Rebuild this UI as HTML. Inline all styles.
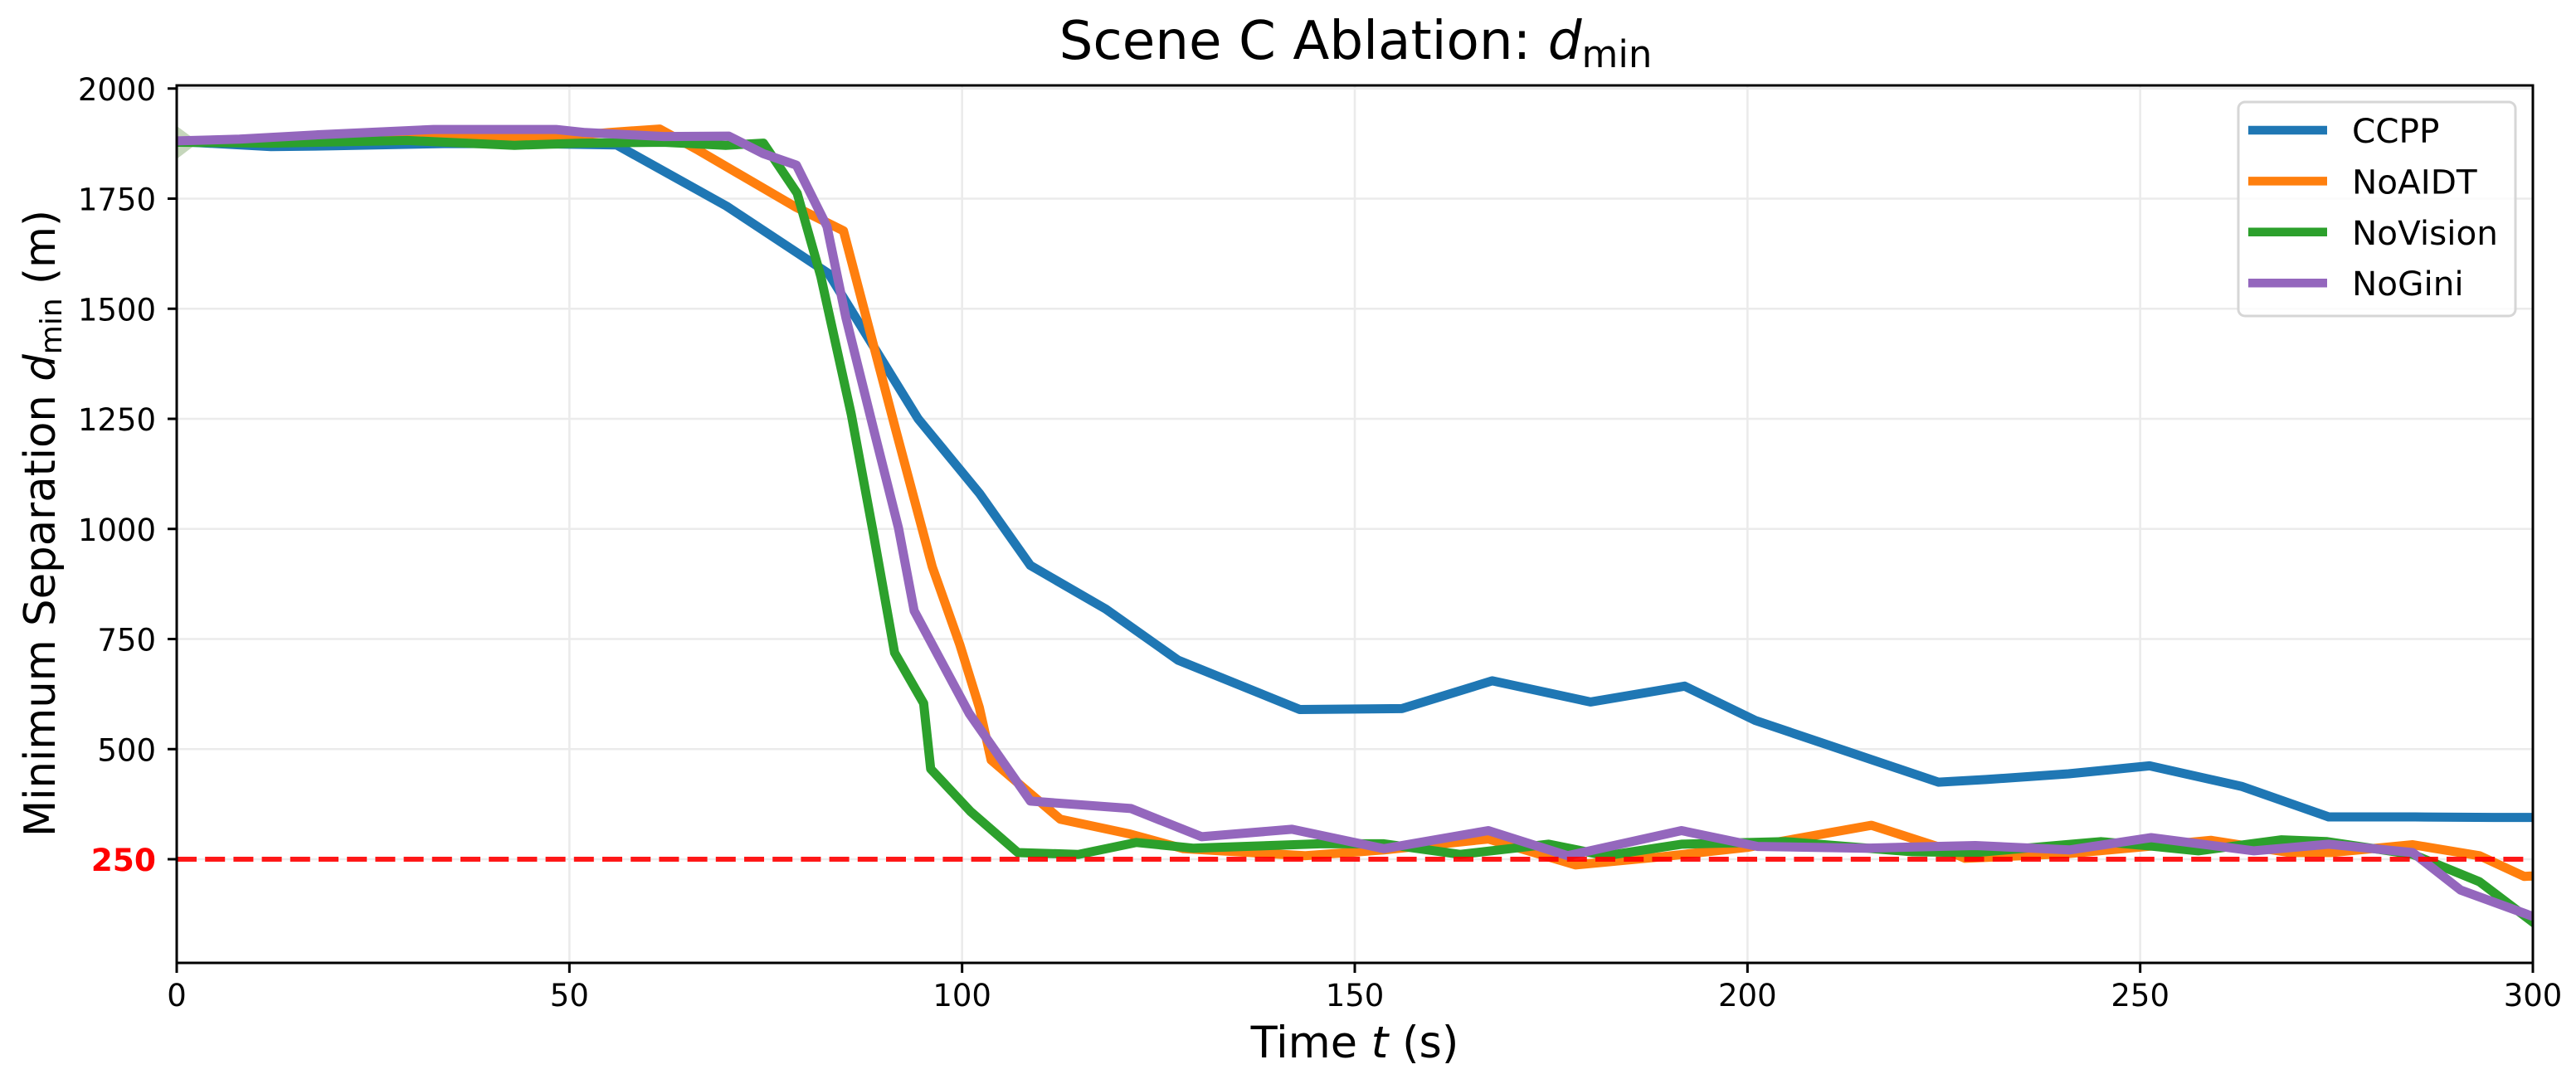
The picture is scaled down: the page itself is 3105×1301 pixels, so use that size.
<!DOCTYPE html>
<html lang="en">
<head>
<meta charset="utf-8">
<title>Scene C Ablation: d_min</title>
<style>
  html, body { margin: 0; padding: 0; background: #ffffff; }
  svg { display: block; }
  text { font-family: "DejaVu Sans", "Liberation Sans", sans-serif; fill: #000000; }
  .oblique { font-style: oblique; }
</style>
</head>
<body>
<svg id="chart" xmlns="http://www.w3.org/2000/svg" width="3105" height="1301" viewBox="0 0 3105 1301">
  <defs>
    <clipPath id="plot-clip"><rect x="213" y="103" width="2840" height="1058"></rect></clipPath>
  </defs>
  <rect x="0" y="0" width="3105" height="1301" fill="#ffffff"></rect>
  <g id="grid" clip-path="url(#plot-clip)"></g>
  <g id="bands" clip-path="url(#plot-clip)"></g>
  <g id="series" clip-path="url(#plot-clip)"></g>
  <g id="threshold" clip-path="url(#plot-clip)"></g>
  <g id="ticks"></g>
  <rect x="213" y="103" width="2840" height="1058" fill="none" stroke="#000000" stroke-width="3"></rect>

  <text x="1634" y="71" font-size="64.3" text-anchor="middle">Scene C Ablation: <tspan class="oblique">d</tspan><tspan font-size="45" dy="10">min</tspan></text>
  <text x="1633" y="1275" font-size="52.5" text-anchor="middle">Time <tspan class="oblique">t</tspan> (s)</text>
  <text transform="translate(66,631) rotate(-90)" x="0" y="0" font-size="51.3" text-anchor="middle">Minimum Separation <tspan class="oblique">d</tspan><tspan font-size="36" dy="8">min</tspan><tspan dy="-8"> (m)</tspan></text>

  <g id="legend">
    <rect x="2698" y="123" width="334" height="258" rx="8" ry="8" fill="#ffffff" fill-opacity="0.8" stroke="#d6d6d6" stroke-width="3"></rect>
  </g>
</svg>

<script>
// ---- chart data ----
const seriesNames = ['CCPP', 'NoAIDT', 'NoVision', 'NoGini'];
const xTickValues = [0, 50, 100, 150, 200, 250, 300];
const yTickValues = [250, 500, 750, 1000, 1250, 1500, 1750, 2000];
const thresholdValue = 250;

const ccppTimes  = [0, 12, 20, 34, 45, 56, 70, 83, 94.4, 102.2, 108.7, 118.3, 127.5, 143, 156, 167.5, 180, 192, 201, 224.3, 230.4, 240.9, 251.2, 263, 274, 285, 295, 300];
const ccppValues = [1880, 1868, 1870, 1875, 1875, 1872, 1733, 1580, 1250, 1081, 917, 818, 702, 590, 592, 655, 607, 643, 565, 425, 431, 444, 462, 415, 346, 346, 345, 345];

const noaidtTimes  = [0, 15, 33, 48, 55, 61.5, 66.2, 78.9, 84.9, 91.6, 96.2, 99.7, 102.2, 103.7, 112.5, 121.2, 128.2, 143.6, 153.7, 167, 178.1, 188.8, 200, 215.8, 224, 227.7, 241, 251.4, 259, 269, 274.3, 284.7, 293.2, 298.9, 300];
const noaidtValues = [1880, 1882, 1889, 1889, 1900, 1908, 1862, 1730, 1677, 1222, 914, 738, 594, 475, 341, 308, 274, 258, 271, 296, 237, 255, 277, 327, 280, 252, 263, 280, 293, 265, 265, 283, 258, 211, 212];

const novisionTimes  = [0, 12, 29.4, 43, 51.4, 62, 69.9, 74.7, 79, 82, 85.9, 88.7, 91.4, 95.1, 96, 101.1, 107.1, 114.8, 122.2, 129.4, 145.6, 153.7, 163.4, 174.7, 182, 191.6, 204.9, 221, 229, 245, 251.4, 257.4, 268, 273.8, 284.7, 293.2, 300];
const novisionValues = [1878, 1876, 1882, 1871, 1876, 1878, 1871, 1876, 1762, 1574, 1259, 990, 719, 604, 455, 358, 265, 261, 288, 275, 285, 285, 261, 284, 258, 284, 290, 267, 265, 290, 280, 269, 294, 290, 261, 199, 107];

const noginiTimes  = [0, 8, 18, 32.7, 48.3, 52, 62, 70.3, 74.7, 78.9, 82.8, 85.2, 88.8, 91.9, 93.9, 100.9, 108.7, 121.5, 130.5, 142, 153.7, 167, 177.1, 191.6, 201.3, 215, 229, 241, 251.4, 264.5, 274, 284.7, 290.8, 300];
const noginiValues = [1881, 1885, 1895, 1907, 1907, 1900, 1891, 1892, 1852, 1826, 1687, 1480, 1222, 1002, 814, 581, 382, 365, 301, 318, 274, 315, 258, 315, 279, 275, 281, 271, 299, 269, 284, 265, 180, 120];

const bandTimes = [0, 2.8];
const bandUpper = [1915, 1878];
const bandLower = [1840, 1878];

// ---- axis functions ----
const plotLeft = 213, pxPerSecond = 9.4667;
const thresholdY = 1036, pxPerMeter = 0.531;
function xAxis(t) { return plotLeft + t * pxPerSecond; }
function yAxis(v) { return thresholdY - (v - thresholdValue) * pxPerMeter; }

const SVG_NS = 'http://www.w3.org/2000/svg';
function make(tag, attrs, parent) {
  const el = document.createElementNS(SVG_NS, tag);
  for (const k in attrs) el.setAttribute(k, attrs[k]);
  parent.appendChild(el);
  return el;
}

const gridGroup = document.getElementById('grid');
const bandGroup = document.getElementById('bands');
const seriesGroup = document.getElementById('series');
const thresholdGroup = document.getElementById('threshold');
const tickGroup = document.getElementById('ticks');
const legendGroup = document.getElementById('legend');

const seriesColors = ['#1f77b4', '#ff7f0e', '#2ca02c', '#9467bd'];
const seriesTimes = [ccppTimes, noaidtTimes, novisionTimes, noginiTimes];
const seriesValues = [ccppValues, noaidtValues, novisionValues, noginiValues];

// grid and ticks
xTickValues.forEach(function (t) {
  const px = xAxis(t);
  const g = make('line', { x1: px, x2: px, y1: 103, y2: 1161, stroke: '#ebebeb', 'stroke-width': 2.6 }, gridGroup);
  
  
  const m = make('line', { x1: px, x2: px, y1: 1161, y2: 1173, stroke: '#000000', 'stroke-width': 3 }, tickGroup);
  
  
  const lab = make('text', { x: px, y: 1213, 'font-size': 37, 'text-anchor': 'middle' }, tickGroup);
  
  
  lab.textContent = String(t);
});

yTickValues.forEach(function (v) {
  const py = yAxis(v);
  const g = make('line', { x1: 213, x2: 3053, y1: py, y2: py, stroke: '#ebebeb', 'stroke-width': 2.6 }, gridGroup);
  
  
  const m = make('line', { x1: 202, x2: 213, y1: py, y2: py, stroke: '#000000', 'stroke-width': 3 }, tickGroup);
  
  
  const isThreshold = v === thresholdValue;
  const lab = make('text', { x: 188, y: py + 14, 'font-size': 37.5, 'text-anchor': 'end' }, tickGroup);
  
  
  if (isThreshold) {
    lab.style.fill = '#ff0000';
    lab.style.fontWeight = 'bold';
  } else {
    lab.setAttribute('font-size', 37);
  }
  lab.textContent = String(v);
});

// shaded band at the start of the run
(function () {
  const upper = bandTimes.map(function (t, i) { return xAxis(t) + ',' + yAxis(bandUpper[i]); });
  const lower = bandTimes.map(function (t, i) { return xAxis(t) + ',' + yAxis(bandLower[i]); }).reverse();
  const band = make('polygon', { points: upper.concat(lower).join(' '), fill: '#c5d6bb' }, bandGroup);
  
  
})();

// series lines
seriesNames.forEach(function (name, i) {
  const pts = seriesTimes[i].map(function (t, j) { return xAxis(t).toFixed(1) + ',' + yAxis(seriesValues[i][j]).toFixed(1); }).join(' ');
  const line = make('polyline', { points: pts, fill: 'none', stroke: seriesColors[i], 'stroke-width': 11, 'stroke-linejoin': 'round', 'stroke-linecap': 'square' }, seriesGroup);
  
  
});

// threshold line
(function () {
  const py = yAxis(thresholdValue);
  const line = make('line', { x1: 213, x2: 3053, y1: py, y2: py, stroke: '#ff0000', 'stroke-opacity': 0.9, 'stroke-width': 6, 'stroke-dasharray': '24 10.2' }, thresholdGroup);
  
  
})();

// legend
seriesNames.forEach(function (name, i) {
  const midY = 157 + i * 61.4;
  const swatch = make('line', { x1: 2710, x2: 2805, y1: midY, y2: midY, stroke: seriesColors[i], 'stroke-width': 10.5 }, legendGroup);
  
  
  const label = make('text', { x: 2835, y: midY + 15, 'font-size': 40.5 }, legendGroup);
  
  
  label.textContent = name;
});
</script>
</body>
</html>
